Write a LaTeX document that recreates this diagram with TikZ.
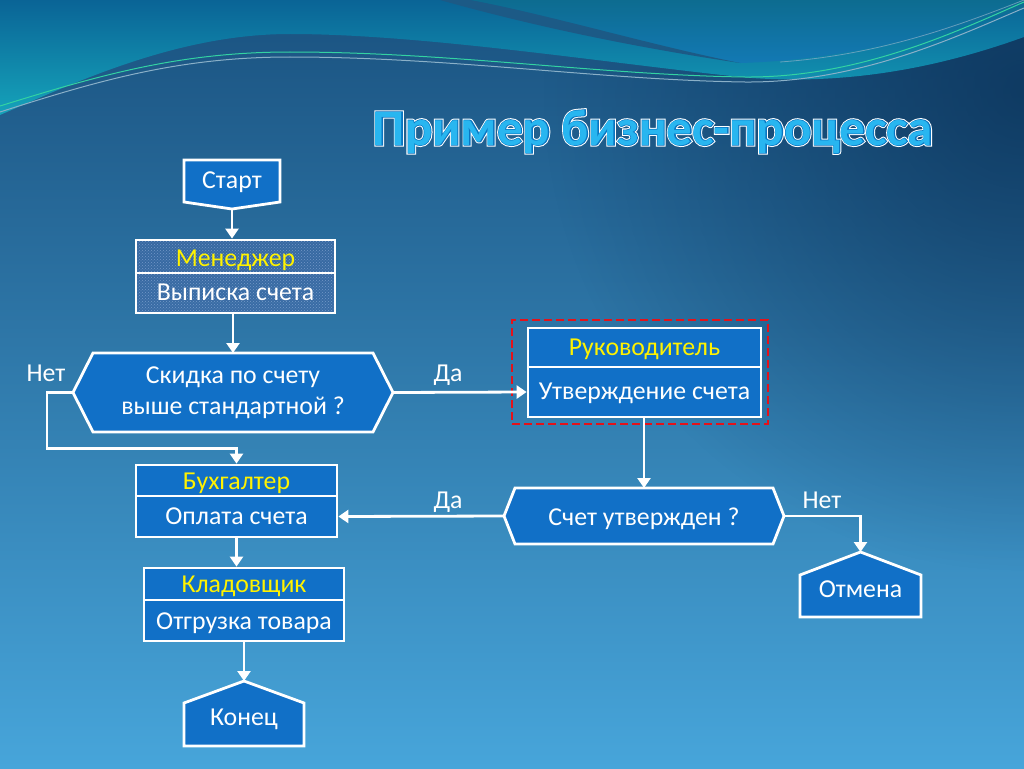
\documentclass[tikz,border=0pt]{standalone}
\usepackage{fontspec}
\setmainfont{Carlito}
\newfontfamily\titleout[FakeBold=6.5]{Carlito Bold}
\newfontfamily\titleedgefont[FakeBold=2.5]{Carlito Bold}
\newfontfamily\titlemain{Carlito Bold}
\usetikzlibrary{arrows.meta,calc,patterns,fadings}
\tikzfading[name=cornerfade, inner color=transparent!0, outer color=transparent!100]
\pgfdeclarelayer{bg}
\pgfdeclarelayer{shapes}
\pgfsetlayers{bg,shapes,main}
\definecolor{nodeblue}{RGB}{17,112,199}
\definecolor{denim}{RGB}{70,102,166}
\definecolor{denimlight}{RGB}{175,198,238}
\definecolor{bgtop}{HTML}{1A5280}
\definecolor{bgbot}{HTML}{47A5DA}
\definecolor{tealtop}{HTML}{0A6496}
\definecolor{tealbot}{HTML}{15A3BA}
\definecolor{btop}{HTML}{0D6C90}
\definecolor{bbot}{HTML}{1379B4}
\definecolor{darkband}{HTML}{1C5A86}
\definecolor{darkcorner}{HTML}{0A3056}
\definecolor{linegreen}{HTML}{33D2A2}
\definecolor{linegray}{HTML}{8AB0C8}
\definecolor{titlecyan}{HTML}{28B6F0}
\definecolor{titleedge}{HTML}{0B75C0}
\definecolor{selred}{HTML}{E4121A}
\newcommand{\bodyfont}{\fontsize{25.8}{30}\selectfont}
\tikzset{
  box/.style={draw=white, line width=2.8pt, fill=nodeblue, text=white, inner sep=0pt, font=\bodyfont, text depth=0pt},
  hdr/.style={box, text=yellow},
  denimbox/.style={preaction={fill=denim}, pattern=crosshatch dots, pattern color=denimlight, fill opacity=0.5, draw opacity=1, text opacity=1},
  shptext/.style={inner sep=0pt, outer sep=0pt, text=white, font=\bodyfont, text depth=0pt},
  shp/.style={draw=white, line width=2.8pt, fill=nodeblue, line join=miter},
  flow/.style={draw=white, line width=2.8pt, -{Triangle[width=13pt,length=10pt]}},
  lbl/.style={text=white, font=\bodyfont, anchor=base, inner sep=0pt},
  ttl/.style={font=\fontsize{51}{60}\selectfont, anchor=base, inner sep=0pt},
}
\begin{document}
\begin{tikzpicture}[x=1pt,y=-1pt]
\useasboundingbox (0,0) rectangle (1024,768);
% ---------------- background
\begin{pgfonlayer}{bg}
\shade[top color=bgtop, bottom color=bgbot] (0,0) rectangle (1024,768);
\fill[darkcorner, opacity=0.75, path fading=cornerfade] (1024,90) circle (480);
\shade[top color=tealtop, bottom color=tealbot]
  (0,0) -- (1024,0) -- (1024,37) .. controls (960,60) and (860,88) .. (740,77)
  .. controls (600,62) and (420,34) .. (290,34) .. controls (180,34) and (80,80) .. (0,115) -- cycle;
\shade[top color=btop, bottom color=bbot]
  (470,0) .. controls (550,15) and (650,45) .. (740,63) .. controls (850,60) and (950,30) .. (1024,8) -- (1024,0) -- cycle;
\fill[darkband] (440,0) .. controls (540,28) and (640,48) .. (740,63) .. controls (650,45) and (550,15) .. (470,0) -- cycle;
\draw[linegray, line width=1pt] (0,112) .. controls (100,80) and (180,57) .. (290,57) .. controls (450,57) and (600,80) .. (745,82) .. controls (860,83) and (960,35) .. (1024,8);
\draw[linegreen, line width=1pt] (0,106) .. controls (100,75) and (180,52) .. (290,52) .. controls (450,52) and (600,75) .. (745,77) .. controls (860,78) and (960,30) .. (1024,2);
\draw[linegray, line width=0.8pt, opacity=0.7] (780,62) .. controls (880,55) and (960,25) .. (1024,0);
\end{pgfonlayer}
% ---------------- title
\node[ttl, text=white] at (653,145) {\titleout Пример бизнес-процесса};
\node[ttl, text=titleedge] at (653,145) {\titleedgefont Пример бизнес-процесса};
\node[ttl, text=titlecyan] (title) at (653,145) {\titlemain Пример бизнес-процесса};
% ---------------- nodes
\node[shptext, minimum width=96, minimum height=49, text height=8pt] (s) at (232,184.5) {Старт};
\node[hdr, denimbox, minimum width=199, minimum height=33, text height=20pt] (mh) at (235.5,256.5) {Менеджер};
\node[box, denimbox, minimum width=199, minimum height=40, text height=14pt] (mb) at (235.5,293) {Выписка счета};
\node[shptext, minimum width=320, minimum height=79, align=center, text depth=4pt, font=\fontsize{25.8}{31}\selectfont] (d1) at (233,392.5) {Скидка по счету\\выше стандартной ?};
\node[hdr, minimum width=233, minimum height=39, text height=16pt] (rh) at (644.5,347.5) {Руководитель};
\node[box, minimum width=233, minimum height=50, text height=14pt] (rb) at (644.5,392) {Утверждение счета};
\node[draw=selred, line width=2.5pt, dash pattern=on 8pt off 4pt, minimum width=256, minimum height=104, inner sep=0pt] (sel) at (640,372) {};
\node[shptext, minimum width=280, minimum height=56, text height=18pt] (d2) at (644,516) {Счет утвержден ?};
\node[hdr, minimum width=201, minimum height=31, text height=17pt] (bh) at (236.5,480.5) {Бухгалтер};
\node[box, minimum width=201, minimum height=41, text height=15pt] (bb) at (236.5,516.5) {Оплата счета};
\node[hdr, minimum width=200, minimum height=32, text height=17.4pt] (kh) at (244,584) {Кладовщик};
\node[box, minimum width=200, minimum height=41, text height=17pt] (kb) at (244,620.5) {Отгрузка товара};
\node[shptext, minimum width=121, minimum height=65, text height=25pt] (o) at (860.5,584.5) {Отмена};
\node[shptext, minimum width=120, minimum height=65, text height=23pt] (e) at (244,713.5) {Конец};
% ---------------- polygon outlines
\begin{pgfonlayer}{shapes}
\draw[shp] (s.north west) -- (s.north east) -- ($(s.south east)+(0,-7)$) -- (s.south) -- ($(s.south west)+(0,-7)$) -- cycle;
\draw[shp] (d1.west) -- ($(d1.north west)+(20,0)$) -- ($(d1.north east)+(-20,0)$) -- (d1.east) -- ($(d1.south east)+(-20,0)$) -- ($(d1.south west)+(20,0)$) -- cycle;
\draw[shp] (d2.west) -- ($(d2.north west)+(11,0)$) -- ($(d2.north east)+(-11,0)$) -- (d2.east) -- ($(d2.south east)+(-11,0)$) -- ($(d2.south west)+(11,0)$) -- cycle;
\draw[shp] (o.north) -- ($(o.north east)+(0,23)$) -- (o.south east) -- (o.south west) -- ($(o.north west)+(0,23)$) -- cycle;
\draw[shp] (e.north) -- ($(e.north east)+(0,22)$) -- (e.south east) -- (e.south west) -- ($(e.north west)+(0,22)$) -- cycle;
\end{pgfonlayer}
% ---------------- connectors
\draw[flow] (s.south) -- (s.south |- mh.north);
\draw[flow] (mb.south -| d1.north) -- (d1.north);
\draw[flow] (d1.west) -- ++(-26,0) -- ++(0,56) -| (bh.north);
\draw[flow] (d1.east) -- (rb.west);
\draw[flow] (rb.south -| d2.north) -- (d2.north);
\draw[flow] (d2.west) -- (bb.east);
\draw[flow] (d2.east) -| (o.north);
\draw[flow] (bb.south) -- (bb.south |- kh.north);
\draw[flow] (kb.south) -- (e.north);
% ---------------- labels
\node[lbl] (l1) at (46,381) {Нет};
\node[lbl] (l2) at (448,381) {Да};
\node[lbl] (l3) at (448,508) {Да};
\node[lbl] (l4) at (822,508) {Нет};
\end{tikzpicture}
\end{document}
